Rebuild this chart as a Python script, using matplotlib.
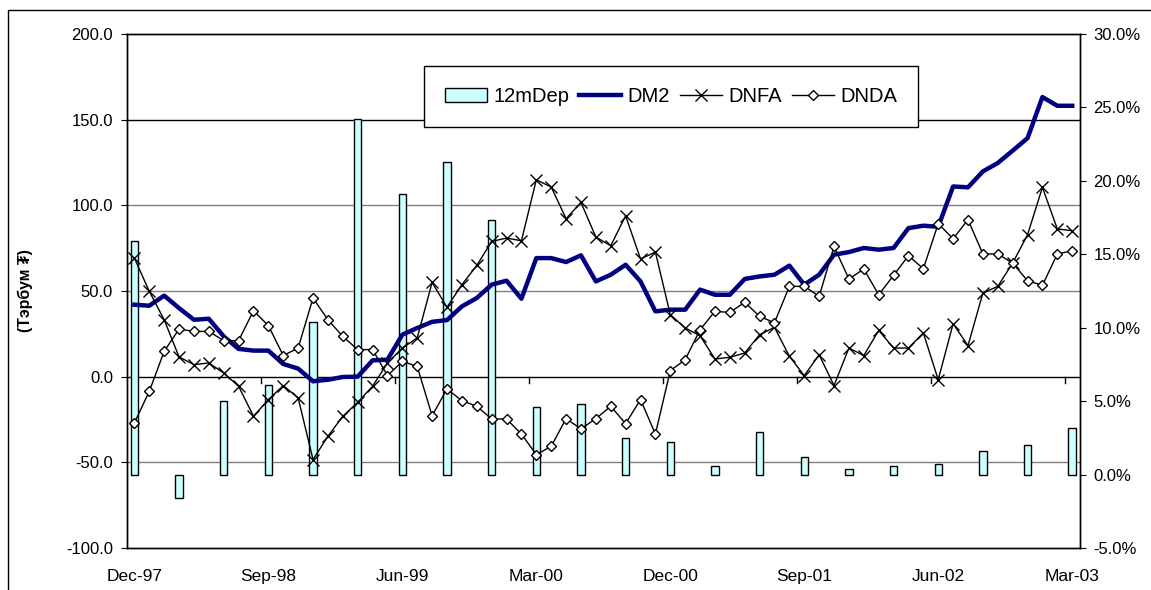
import matplotlib.pyplot as plt
import matplotlib.transforms as mtransforms
from matplotlib.patches import Rectangle
import numpy as np

plt.rcParams['font.family'] = ['Liberation Sans', 'DejaVu Sans']

# months Dec-97 .. Mar-03
months = ['Dec-97', 'Jan-98', 'Feb-98', 'Mar-98', 'Apr-98', 'May-98', 'Jun-98', 'Jul-98',
          'Aug-98', 'Sep-98', 'Oct-98', 'Nov-98', 'Dec-98', 'Jan-99', 'Feb-99', 'Mar-99',
          'Apr-99', 'May-99', 'Jun-99', 'Jul-99', 'Aug-99', 'Sep-99', 'Oct-99', 'Nov-99',
          'Dec-99', 'Jan-00', 'Feb-00', 'Mar-00', 'Apr-00', 'May-00', 'Jun-00', 'Jul-00',
          'Aug-00', 'Sep-00', 'Oct-00', 'Nov-00', 'Dec-00', 'Jan-01', 'Feb-01', 'Mar-01',
          'Apr-01', 'May-01', 'Jun-01', 'Jul-01', 'Aug-01', 'Sep-01', 'Oct-01', 'Nov-01',
          'Dec-01', 'Jan-02', 'Feb-02', 'Mar-02', 'Apr-02', 'May-02', 'Jun-02', 'Jul-02',
          'Aug-02', 'Sep-02', 'Oct-02', 'Nov-02', 'Dec-02', 'Jan-03', 'Feb-03', 'Mar-03']

dm2 = [42.0, 41.4, 47.3, 40.0, 33.2, 33.8, 23.5, 16.2, 15.2, 15.2, 7.4, 4.7,
       -2.7, -1.8, -0.2, 0.0, 9.5, 9.9, 24.5, 28.4, 32.0, 33.0, 41.0, 45.9,
       53.7, 56.0, 45.5, 69.2, 69.2, 66.9, 70.8, 55.6, 59.5, 65.3, 55.6, 38.1,
       39.1, 39.1, 50.8, 47.8, 47.8, 57.0, 58.5, 59.5, 64.8, 53.7, 59.5, 71.2,
       72.7, 75.1, 74.1, 75.1, 86.7, 88.1, 87.5, 111.0, 110.5, 119.8, 124.7, 131.9,
       139.2, 163.2, 158.1, 158.1]

dnfa = [69.2, 49.8, 33.2, 11.5, 7.0, 8.0, 2.1, -5.6, -23.1, -13.4, -5.2, -12.4,
        -48.4, -34.8, -23.1, -15.0, -5.6, 8.0, 16.7, 22.6, 55.0, 40.5, 53.7, 64.9,
        78.9, 80.9, 79.3, 114.9, 110.7, 92.2, 101.7, 81.5, 76.4, 93.9, 68.7, 72.7,
        36.2, 28.4, 23.9, 10.3, 11.3, 13.8, 24.5, 28.8, 11.9, 0.6, 12.8, -5.2,
        16.7, 12.3, 27.0, 16.7, 16.7, 25.5, -1.8, 30.9, 18.1, 48.8, 52.7, 66.3,
        82.8, 110.5, 86.2, 85.2]

dnda = [-27.0, -8.6, 14.8, 27.8, 26.4, 26.4, 21.0, 21.0, 38.5, 29.8, 12.3, 16.7,
        45.9, 33.2, 23.5, 15.8, 15.8, 0.6, 8.9, 6.0, -22.8, -7.2, -14.0, -17.3,
        -24.7, -24.7, -33.5, -45.5, -40.7, -24.5, -30.5, -24.5, -17.3, -27.4, -13.4, -33.5,
        3.5, 9.9, 27.4, 38.1, 37.5, 43.4, 35.2, 31.5, 52.7, 52.7, 46.9, 76.0,
        57.0, 62.8, 47.8, 59.1, 70.6, 63.0, 89.3, 80.5, 91.6, 71.6, 71.6, 66.3,
        56.0, 53.3, 71.6, 73.5]

# 12-month deposit rate, quarterly (%)
dep_months = ['Dec-97', 'Mar-98', 'Jun-98', 'Sep-98', 'Dec-98', 'Mar-99', 'Jun-99', 'Sep-99',
              'Dec-99', 'Mar-00', 'Jun-00', 'Sep-00', 'Dec-00', 'Mar-01', 'Jun-01', 'Sep-01',
              'Dec-01', 'Mar-02', 'Jun-02', 'Sep-02', 'Dec-02', 'Mar-03']
dep12m = [15.9, -1.6, 5.0, 6.1, 10.4, 24.2, 19.1, 21.3,
          17.3, 4.6, 4.8, 2.5, 2.2, 0.6, 2.9, 1.2,
          0.4, 0.6, 0.7, 1.6, 2.0, 3.2]

xlabels = ['Dec-97', 'Sep-98', 'Jun-99', 'Mar-00', 'Dec-00', 'Sep-01', 'Jun-02', 'Mar-03']

x = np.arange(len(months))
xdep = [months.index(m) for m in dep_months]
xlab = [months.index(m) for m in xlabels]

fig = plt.figure(figsize=(11.51, 5.90), dpi=100)
ax2 = fig.add_axes([0.1103, 0.0712, 0.8277, 0.8712])   # bars, right scale
ax = ax2.twinx()                                          # lines, left scale
ax.set_zorder(ax2.get_zorder() + 1)
ax.patch.set_visible(False)
ax.yaxis.tick_left()
ax.yaxis.set_label_position('left')
ax2.yaxis.tick_right()

# bars
ax2.bar(xdep, dep12m, width=0.5, color='#CCFFFF', edgecolor='black', linewidth=1,
        label='12mDep', zorder=3)
ax2.set_ylim(-5, 30)
ax2.set_yticks(np.arange(-5, 31, 5))
ax2.set_yticklabels(['{:.1f}%'.format(v) for v in np.arange(-5, 31, 5)])

# gridlines (left-scale values) drawn behind the bars
trans = mtransforms.blended_transform_factory(ax2.transAxes, ax.transData)
for v in [150, 100, 50, 0, -50]:
    col = 'black' if v in (150, 0) else '#808080'
    ax2.plot([0, 1], [v, v], transform=trans, color=col, linewidth=1, zorder=1)

# lines
ax.plot(x, dm2, color='#000080', linewidth=3.2, label='DM2', zorder=3)
ax.plot(x, dnfa, color='black', linewidth=1, marker='x', markersize=8,
        markeredgewidth=1, label='DNFA', zorder=4)
ax.plot(x, dnda, color='black', linewidth=1, marker='D', markersize=5.5,
        markerfacecolor='white', markeredgewidth=1, label='DNDA', zorder=4)

ax.set_ylim(-100, 200)
ax.set_yticks(np.arange(-100, 201, 50))
ax.set_yticklabels(['{:.1f}'.format(v) for v in np.arange(-100, 201, 50)])
ax.set_xlim(-0.5, len(months) - 0.5)

# category-axis tick marks on the zero line
for b in np.arange(8.5, len(months), 9):
    ax.plot([b, b], [0, -3.5], color='black', linewidth=1, zorder=2)

ax2.set_xticks(xlab)
ax2.set_xticklabels(xlabels)
ax2.tick_params(axis='x', length=0, pad=15, labelsize=12.5)
ax.tick_params(axis='y', direction='out', length=4, labelsize=12, pad=6)
ax2.tick_params(axis='y', direction='out', length=4, labelsize=12, pad=6)

for a in (ax, ax2):
    for s in a.spines.values():
        s.set_color('black')
        s.set_linewidth(1)

ax.set_ylabel('(Тэрбум ₮)', fontsize=11.5, fontweight='bold', labelpad=24)

h1, l1 = ax2.get_legend_handles_labels()
h2, l2 = ax.get_legend_handles_labels()
leg = ax.legend(h1 + h2, l1 + l2, ncol=4, loc='center',
                bbox_to_anchor=(0.571, 0.879), bbox_transform=ax.transAxes,
                fontsize=14.5, frameon=True, fancybox=False, shadow=False,
                framealpha=1, edgecolor='black', handlelength=2.1, handletextpad=0.3,
                columnspacing=0.5, borderpad=1.05, borderaxespad=0)
leg.get_frame().set_linewidth(1)

# outer chart frame
fig.patches.append(Rectangle((8 / 1151, -0.1), 1.2, 1.1 - 10 / 590,
                             transform=fig.transFigure, fill=False,
                             edgecolor='black', linewidth=1))

plt.savefig('out.png', dpi=100)
